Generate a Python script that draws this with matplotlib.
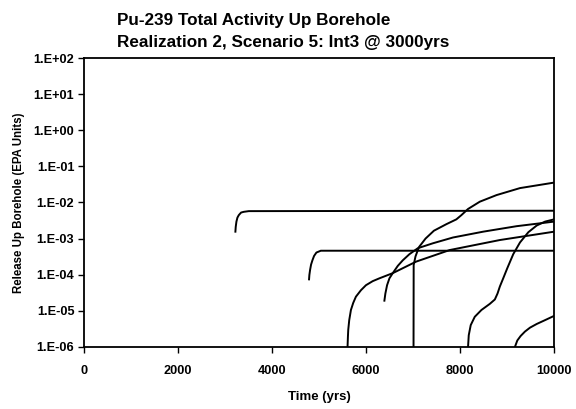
import matplotlib
matplotlib.use("Agg")
import matplotlib.pyplot as plt
from matplotlib.ticker import FuncFormatter, FixedLocator
import numpy as np

plt.rcParams['font.family'] = ['Liberation Sans', 'DejaVu Sans']

# realization curves (time in yrs, release in EPA units)
a_t = [3219, 3226, 3241, 3262, 3291, 3340, 3397, 3504, 10000]
a_v = [1.55e-3, 2.1e-3, 2.95e-3, 3.8e-3, 4.45e-3, 5.25e-3, 5.5e-3, 5.75e-3, 5.9e-3]

b_t = [4786, 4793, 4808, 4829, 4858, 4893, 4943, 5036, 10000]
b_v = [7.4e-5, 9.8e-5, 1.35e-4, 1.9e-4, 2.5e-4, 3.3e-4, 4.1e-4, 4.6e-4, 4.6e-4]

c_t = [5605, 5613, 5620, 5641, 5677, 5726, 5783, 5890, 5997, 6140, 6282, 6567, 7066, 7778, 8846, 10000]
c_v = [1.0e-6, 1.9e-6, 2.95e-6, 5.5e-6, 1.05e-5, 1.65e-5, 2.45e-5, 3.7e-5, 5.1e-5, 6.6e-5,
       7.9e-5, 1.1e-4, 2.3e-4, 4.8e-4, 9.1e-4, 1.55e-3]

d_t = [6389, 6410, 6446, 6496, 6567, 6674, 6781, 6923, 7101, 7422, 7849, 8490, 9202, 10000]
d_v = [1.9e-5, 3.0e-5, 5.1e-5, 7.9e-5, 1.1e-4, 1.75e-4, 2.5e-4, 3.7e-4, 5.4e-4, 7.4e-4,
       1.07e-3, 1.55e-3, 2.2e-3, 2.95e-3]

e_t = [7009, 7012, 7051, 7123, 7265, 7443, 7707, 7920, 8027, 8169, 8419, 8775, 9274, 10000]
e_v = [1.0e-6, 1.85e-4, 3.2e-4, 5.75e-4, 1.0e-3, 1.65e-3, 2.5e-3, 3.4e-3, 4.45e-3, 6.6e-3,
       1.05e-2, 1.6e-2, 2.5e-2, 3.55e-2]

f_t = [8169, 8184, 8226, 8312, 8454, 8632, 8739, 8796, 8846, 8917, 9003, 9131, 9274, 9452, 9630, 9808, 10000]
f_v = [1.0e-6, 2.1e-6, 4.0e-6, 6.8e-6, 1.05e-5, 1.55e-5, 2.05e-5, 3.0e-5, 4.7e-5, 7.9e-5,
       1.5e-4, 3.7e-4, 7.8e-4, 1.5e-3, 2.3e-3, 2.95e-3, 3.4e-3]

g_t = [9167, 9217, 9288, 9380, 9487, 9630, 9808, 10000]
g_v = [1.0e-6, 1.5e-6, 2.0e-6, 2.65e-6, 3.4e-6, 4.3e-6, 5.5e-6, 7.2e-6]

curves = [(a_t, a_v), (b_t, b_v), (c_t, c_v), (d_t, d_v), (e_t, e_v), (f_t, f_v), (g_t, g_v)]

x_ticks = [0, 2000, 4000, 6000, 8000, 10000]
y_ticks = [1e-6, 1e-5, 1e-4, 1e-3, 1e-2, 1e-1, 1e0, 1e1, 1e2]

fig = plt.figure(figsize=(5.76, 4.09), dpi=100)
ax = fig.add_axes([0.146, 0.152, 0.816, 0.706])

for t, v in curves:
    ax.plot(t, v, color="black", lw=1.4, solid_joinstyle="round")

ax.set_yscale("log")
ax.set_xlim(0, 10000)
ax.set_ylim(1e-6, 1e2)
ax.xaxis.set_major_locator(FixedLocator(x_ticks))
ax.yaxis.set_major_locator(FixedLocator(y_ticks))
ax.yaxis.set_minor_locator(FixedLocator([]))
ax.yaxis.set_major_formatter(FuncFormatter(lambda v, p: "1.E%+03d" % int(round(np.log10(v)))))

for s in ax.spines.values():
    s.set_linewidth(1.3)
ax.tick_params(direction="out", length=4, width=1.0, labelsize=9.2)
ax.tick_params(axis="x", pad=9)
ax.tick_params(axis="y", pad=3)
for lab in ax.get_xticklabels() + ax.get_yticklabels():
    lab.set_fontweight("bold")

ax.set_xlabel("Time (yrs)", fontsize=9.5, fontweight="bold", labelpad=10)
ax.set_ylabel("Release Up Borehole (EPA Units)", fontsize=8.3, fontweight="bold", labelpad=6)

# two-line title, left aligned like the original
fig.text(0.203, 0.939, "Pu-239 Total Activity Up Borehole", fontsize=12.3, fontweight="bold", va="baseline")
fig.text(0.203, 0.885, "Realization 2, Scenario 5: Int3 @ 3000yrs", fontsize=12.3, fontweight="bold", va="baseline")

fig.savefig("out.png", dpi=100)
